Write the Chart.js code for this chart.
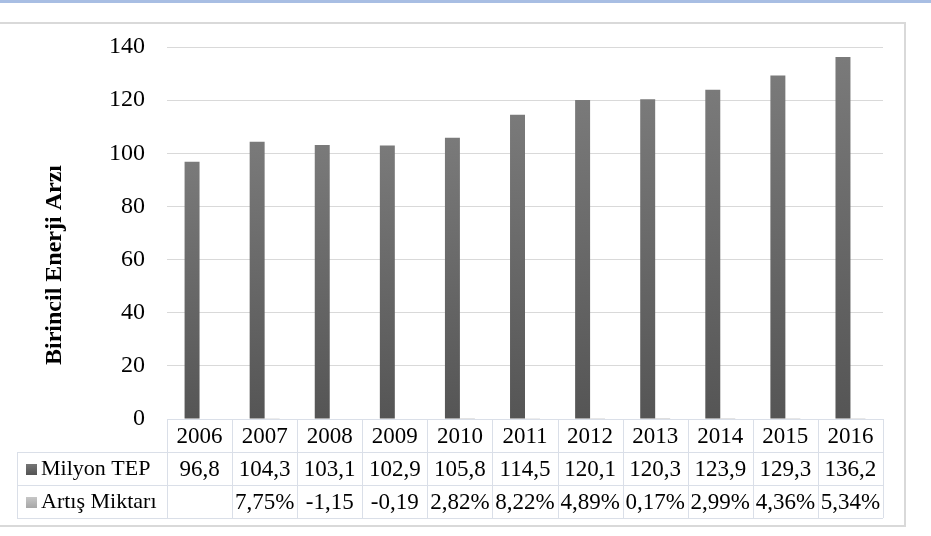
<!DOCTYPE html>
<html>
<head>
<meta charset="utf-8">
<script src="https://cdn.jsdelivr.net/npm/chart.js@4/dist/chart.umd.min.js"></script>
<style>
  html, body { margin: 0; padding: 0; background: #fff; }
  #wrap { position: relative; width: 931px; height: 536px; overflow: hidden; }
  #strip { position: absolute; left: 0; top: 0; width: 931px; height: 3px; background: #a8bee3; }
  canvas { position: absolute; left: 0; top: 0; }
</style>
</head>
<body>
<div id="wrap">
  <canvas id="c" width="931" height="536"></canvas>
  <div id="strip"></div>
</div>
<script>
// ---- Data ----
const years = ['2006','2007','2008','2009','2010','2011','2012','2013','2014','2015','2016'];
const milyonTEP = [96.8, 104.3, 103.1, 102.9, 105.8, 114.5, 120.1, 120.3, 123.9, 129.3, 136.2];
const artisMiktari = [null, 7.75, -1.15, -0.19, 2.82, 8.22, 4.89, 0.17, 2.99, 4.36, 5.34]; // percent
const yTicks = [0, 20, 40, 60, 80, 100, 120, 140];
const seriesNames = ['Milyon TEP', 'Artış Miktarı'];
const yTitle = 'Birincil Enerji Arzı';

const FONT = "'Liberation Serif', 'Times New Roman', serif";

function fmtTEP(v) { return v.toFixed(1).replace('.', ','); }
function fmtArtis(v) {
  if (v === null) return '';
  const s = v.toFixed(2).replace('.', ',');
  return v < 0 ? s : s + '%';
}

function barGradient(ctx, topColor, bottomColor) {
  const chart = ctx.chart;
  const area = chart.chartArea;
  if (!area || ctx.raw === null || ctx.raw === undefined) return bottomColor;
  const ys = chart.scales.y;
  let y0 = ys.getPixelForValue(ctx.raw);
  let y1 = ys.getPixelForValue(0);
  if (Math.abs(y1 - y0) < 1) return bottomColor;
  const g = chart.ctx.createLinearGradient(0, Math.min(y0, y1), 0, Math.max(y0, y1));
  g.addColorStop(0, topColor);
  g.addColorStop(1, bottomColor);
  return g;
}

const tablePlugin = {
  id: 'dataTable',
  beforeDraw(chart) {
    const c = chart.ctx;
    c.save();
    c.fillStyle = '#fff';
    c.fillRect(0, 0, chart.width, chart.height);
    c.strokeStyle = '#d9d9d9';
    c.lineWidth = 2;
    c.strokeRect(-5, 23, 910, 503);
    c.restore();
  },
  afterDraw(chart) {
    const c = chart.ctx;
    const xs = chart.scales.x;
    const area = chart.chartArea;
    const n = years.length;
    const cw = (area.right - area.left) / n;
    const rowH = 33;
    const top = area.bottom;
    const labelLeft = 17;
    c.save();
    c.strokeStyle = '#dadfe8';
    c.lineWidth = 1;
    const hl = (y, x0, x1) => { c.beginPath(); c.moveTo(x0, y + 0.5); c.lineTo(x1, y + 0.5); c.stroke(); };
    const vl = (x, y0, y1) => { c.beginPath(); c.moveTo(Math.round(x) + 0.5, y0); c.lineTo(Math.round(x) + 0.5, y1); c.stroke(); };
    hl(Math.round(top), area.left, area.right);
    hl(Math.round(top + rowH), labelLeft, area.right);
    hl(Math.round(top + 2 * rowH), labelLeft, area.right);
    hl(Math.round(top + 3 * rowH), labelLeft, area.right);
    vl(labelLeft, top + rowH, top + 3 * rowH);
    for (let i = 0; i <= n; i++) {
      vl(area.left + i * cw, top, top + 3 * rowH);
    }
    c.fillStyle = '#000';
    c.font = '23px ' + FONT;
    c.textAlign = 'center';
    c.textBaseline = 'middle';
    for (let i = 0; i < n; i++) {
      const x = xs.getPixelForValue(i);
      c.fillText(years[i], x, top + rowH * 0.5 + 1);
      c.fillText(fmtTEP(milyonTEP[i]), x, top + rowH * 1.5 + 1);
      c.fillText(fmtArtis(artisMiktari[i]), x, top + rowH * 2.5 + 1);
    }
    c.textAlign = 'left';
    const keyX = 26, keySize = 11;
    let g1 = c.createLinearGradient(0, top + rowH * 1.5 - 5, 0, top + rowH * 1.5 + 6);
    g1.addColorStop(0, '#777'); g1.addColorStop(1, '#555');
    c.fillStyle = g1;
    c.fillRect(keyX, Math.round(top + rowH * 1.5 - keySize / 2) + 1, keySize, keySize);
    let g2 = c.createLinearGradient(0, top + rowH * 2.5 - 5, 0, top + rowH * 2.5 + 6);
    g2.addColorStop(0, '#c8c8c8'); g2.addColorStop(1, '#a8a8a8');
    c.fillStyle = g2;
    c.fillRect(keyX, Math.round(top + rowH * 2.5 - keySize / 2) + 1, keySize, keySize);
    c.fillStyle = '#000';
    c.font = '22px ' + FONT;
    c.fillText(seriesNames[0], 41, top + rowH * 1.5 + 1);
    c.fillText(seriesNames[1], 41, top + rowH * 2.5 + 1);
    c.translate(55, 265);
    c.rotate(-Math.PI / 2);
    c.textAlign = 'center';
    c.font = 'bold 24px ' + FONT;
    c.fillText(yTitle, 0, 0);
    c.restore();
  }
};

new Chart(document.getElementById('c'), {
  type: 'bar',
  data: {
    labels: years,
    datasets: [
      {
        label: seriesNames[0],
        data: milyonTEP,
        backgroundColor: (ctx) => barGradient(ctx, '#7a7a7a', '#555555'),
        categoryPercentage: 0.46,
        barPercentage: 1.0,
        borderWidth: 0
      },
      {
        label: seriesNames[1],
        data: artisMiktari.map(v => v === null ? null : v / 100),
        backgroundColor: '#bdbdbd',
        categoryPercentage: 0.46,
        barPercentage: 1.0,
        borderWidth: 0
      }
    ]
  },
  options: {
    responsive: false,
    animation: false,
    devicePixelRatio: 1,
    layout: { padding: { top: 47, left: 0, right: 48, bottom: 117 } },
    plugins: {
      legend: { display: false },
      tooltip: { enabled: false },
      title: { display: false }
    },
    scales: {
      x: {
        display: false,
        offset: true
      },
      y: {
        min: yTicks[0],
        max: yTicks[yTicks.length - 1],
        afterBuildTicks(scale) { scale.ticks = yTicks.map(v => ({ value: v })); },
        afterFit(scale) { scale.width = 167; },
        ticks: {
          color: '#000',
          padding: 22,
          font: { family: FONT, size: 24 }
        },
        grid: { color: '#d9d9d9', drawTicks: false, lineWidth: 1 },
        border: { display: false }
      }
    }
  },
  plugins: [tablePlugin]
});
</script>
</body>
</html>
